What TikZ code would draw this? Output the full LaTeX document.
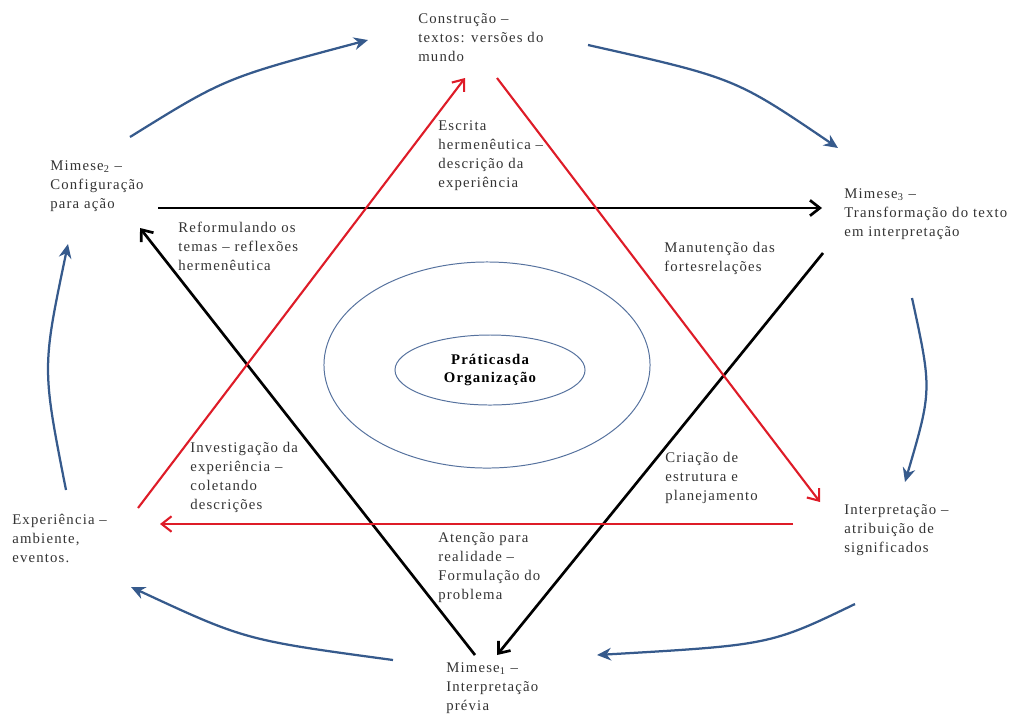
\documentclass[tikz,border=0pt]{standalone}
\usepackage{fontspec}
\setmainfont{Liberation Serif}[LetterSpace=8]
\usetikzlibrary{arrows.meta,positioning,shapes.geometric}
\definecolor{cycleblue}{RGB}{54,90,140}
\definecolor{hermred}{RGB}{222,28,40}
\definecolor{ringblue}{RGB}{86,114,158}
\tikzset{
  every node/.style={font=\fontsize{10.5}{13.5}\selectfont},
  labeltext/.style={anchor=north west, align=left, inner sep=0pt, text=black!80},
  cyclearrow/.style={-{Stealth[length=10pt,width=9pt]}, cycleblue, line width=1.6pt},
  redarrow/.style={-{Straight Barb[length=7pt,width=11pt]}, hermred, line width=1.5pt},
  blackarrow/.style={-{Straight Barb[length=7pt,width=11pt]}, black, line width=1.9pt},
  ring/.style={draw=ringblue, ellipse, line width=0.7pt, inner sep=0pt}
}

\begin{document}
\begin{tikzpicture}[x=0.025cm, y=-0.025cm]
\useasboundingbox (0,0) rectangle (1016,713);

% 1. Outer stages of the cycle
\node[labeltext] (constr) at (418,13) {Construção –\\textos: versões do\\mundo};
\node[labeltext] (mim2) at (50,160) {Mimese\textsubscript{2} –\\Configuração\\para ação};
\node[labeltext] (mim3) at (844,188) {Mimese\textsubscript{3} –\\Transformação do texto\\em interpretação};
\node[labeltext] (interp) at (844,504) {Interpretação –\\atribuição de\\significados};
\node[labeltext] (mim1) at (446,662) {Mimese\textsubscript{1} –\\Interpretação\\prévia};
\node[labeltext] (exper) at (12,514) {Experiência –\\ambiente,\\eventos.};

% 2. Labels inside the star
\node[labeltext] (escrita) at (438,120) {Escrita\\hermenêutica –\\descrição da\\experiência};
\node[labeltext] (reform) at (178,222) {Reformulando os\\temas – reflexões\\hermenêutica};
\node[labeltext] (manut) at (664,242) {Manutenção das\\fortesrelações};
\node[labeltext] (invest) at (190,442) {Investigação da\\experiência –\\coletando\\descrições};
\node[labeltext] (criacao) at (665,452) {Criação de\\estrutura e\\planejamento};
\node[labeltext] (atencao) at (438,532) {Atenção para\\realidade –\\Formulação do\\problema};

% 3. Centre
\node[ring, minimum width=8.15cm, minimum height=5.15cm] (outer) at (487,365) {};
\node[ring, minimum width=4.75cm, minimum height=1.75cm, font=\fontsize{10.5}{13}\selectfont\bfseries, align=center] (centre) at (490,370) {Práticasda\\Organização};

% 4. End points of the star
\coordinate (blA) at (158,208);  \coordinate (blB) at (822,208);
\coordinate (rdA) at (138,508);  \coordinate (rdB) at (465,78);
\coordinate (rdC) at (497,78);   \coordinate (rdD) at (820,502);
\coordinate (rdE) at (793,524);  \coordinate (rdF) at (160,524);
\coordinate (bkA) at (475,655);  \coordinate (bkB) at (140,228);
\coordinate (bkC) at (823,253);  \coordinate (bkD) at (497,655);

\draw[blackarrow] (blA) -- (blB);
\draw[blackarrow] (bkA) -- (bkB);
\draw[blackarrow] (bkC) -- (bkD);
\draw[redarrow] (rdA) -- (rdB);
\draw[redarrow] (rdC) -- (rdD);
\draw[redarrow] (rdE) -- (rdF);

% 5. Cycle arrows
\coordinate (cy1a) at (130,137); \coordinate (cy1b) at (368,40);
\coordinate (cy2a) at (588,45);  \coordinate (cy2b) at (838,148);
\coordinate (cy3a) at (912,298); \coordinate (cy3b) at (905,482);
\coordinate (cy4a) at (855,604); \coordinate (cy4b) at (597,655);
\coordinate (cy5a) at (393,660); \coordinate (cy5b) at (131,587);
\coordinate (cy6a) at (66,490);  \coordinate (cy6b) at (68,244);

\draw[cyclearrow] (cy1a) .. controls (225,78) .. (cy1b);
\draw[cyclearrow] (cy2a) .. controls (735,78) .. (cy2b);
\draw[cyclearrow] (cy3a) .. controls (932,390) .. (cy3b);
\draw[cyclearrow] (cy4a) .. controls (770,645) .. (cy4b);
\draw[cyclearrow] (cy5a) .. controls (245,640) .. (cy5b);
\draw[cyclearrow] (cy6a) .. controls (42,368) .. (cy6b);

\end{tikzpicture}
\end{document}
